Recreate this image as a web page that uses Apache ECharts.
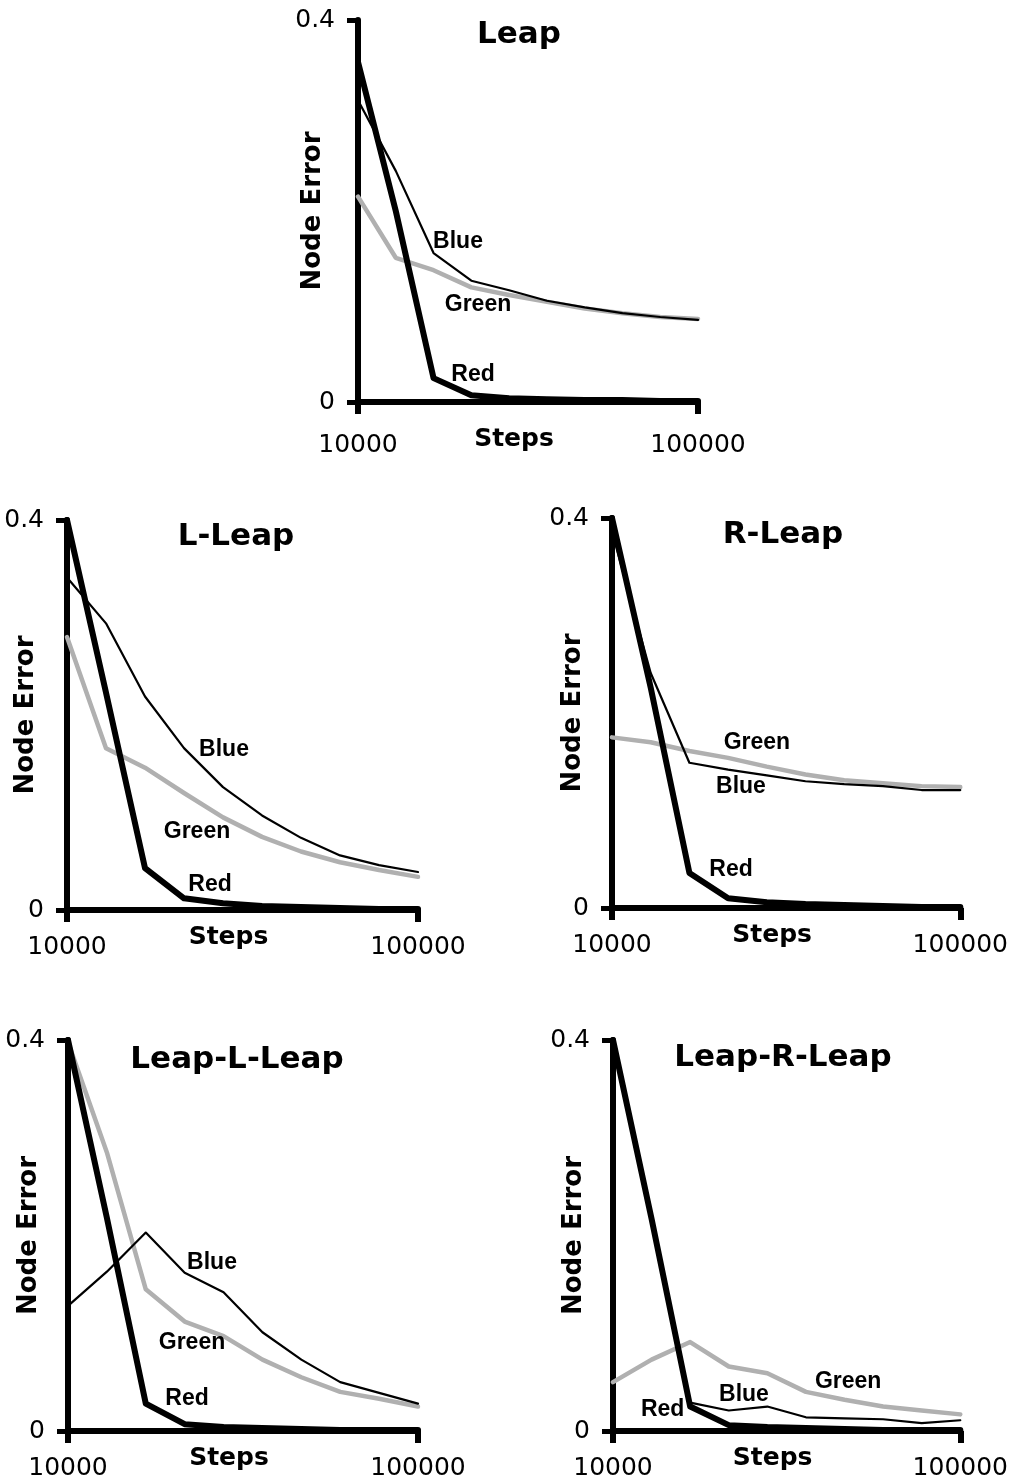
<!DOCTYPE html>
<html>
<head>
<meta charset="utf-8">
<script src="https://cdn.jsdelivr.net/npm/echarts@6/dist/echarts.min.js"></script>
<style>
html,body{margin:0;padding:0;background:#fff;}
#chart{width:1011px;height:1481px;}
</style>
</head>
<body>
<div id="chart"></div>
<script>
// ---- data ----
const steps = [10000, 20000, 30000, 40000, 50000, 60000, 70000, 80000, 90000, 100000];
const xTickValues = [10000, 100000];
const panelTitles = ['Leap', 'L-Leap', 'R-Leap', 'Leap-L-Leap', 'Leap-R-Leap'];
const seriesNames = ['Green', 'Blue', 'Red'];

const leapRed   = [0.356, 0.200, 0.025, 0.007, 0.004, 0.003, 0.002, 0.002, 0.001, 0.001];
const leapBlue  = [0.316, 0.242, 0.156, 0.127, 0.117, 0.106, 0.099, 0.093, 0.089, 0.086];
const leapGreen = [0.215, 0.151, 0.138, 0.120, 0.112, 0.105, 0.098, 0.093, 0.089, 0.087];

const lLeapRed   = [0.400, 0.223, 0.043, 0.012, 0.007, 0.004, 0.003, 0.002, 0.001, 0.001];
const lLeapBlue  = [0.341, 0.294, 0.219, 0.166, 0.126, 0.097, 0.074, 0.056, 0.046, 0.039];
const lLeapGreen = [0.280, 0.166, 0.146, 0.120, 0.095, 0.075, 0.060, 0.049, 0.041, 0.034];

const rLeapRed   = [0.400, 0.226, 0.036, 0.010, 0.006, 0.004, 0.003, 0.002, 0.001, 0.001];
const rLeapBlue  = [0.386, 0.241, 0.149, 0.142, 0.136, 0.130, 0.127, 0.125, 0.121, 0.121];
const rLeapGreen = [0.175, 0.170, 0.161, 0.154, 0.145, 0.137, 0.131, 0.128, 0.125, 0.124];

const leapLLeapRed   = [0.400, 0.218, 0.028, 0.007, 0.004, 0.003, 0.002, 0.001, 0.001, 0.001];
const leapLLeapBlue  = [0.128, 0.163, 0.203, 0.162, 0.142, 0.101, 0.073, 0.050, 0.039, 0.028];
const leapLLeapGreen = [0.398, 0.285, 0.145, 0.112, 0.097, 0.073, 0.055, 0.040, 0.033, 0.025];

const leapRLeapRed   = [0.400, 0.217, 0.025, 0.006, 0.004, 0.003, 0.002, 0.001, 0.001, 0.001];
const leapRLeapBlue  = [0.400, 0.217, 0.029, 0.021, 0.025, 0.014, 0.013, 0.012, 0.008, 0.011];
const leapRLeapGreen = [0.050, 0.073, 0.091, 0.066, 0.059, 0.040, 0.032, 0.025, 0.021, 0.017];

const panelData = [
  { green: leapGreen,      blue: leapBlue,      red: leapRed },
  { green: lLeapGreen,     blue: lLeapBlue,     red: lLeapRed },
  { green: rLeapGreen,     blue: rLeapBlue,     red: rLeapRed },
  { green: leapLLeapGreen, blue: leapLLeapBlue, red: leapLLeapRed },
  { green: leapRLeapGreen, blue: leapRLeapBlue, red: leapRLeapRed }
];

// ---- layout (positions / styles) ----
const layout = [
  { left: 358, top: 20,   width: 340, height: 382, titleX: 519, titleY: 35,   yNameGap: 32, xNameGap: 25, xLabelMargin: 31,
    labelAt: { Blue: [36470, 0.1675], Green: [41760, 0.1016], Red: [40440, 0.0283] } },
  { left: 67,  top: 520,  width: 351, height: 390, titleX: 236, titleY: 537,  yNameGap: 28, xNameGap: 15, xLabelMargin: 25,
    labelAt: { Blue: [50260, 0.1641], Green: [43333, 0.0800], Red: [46667, 0.0256] } },
  { left: 612, top: 518,  width: 351, height: 390, titleX: 783, titleY: 535,  yNameGap: 26, xNameGap: 15, xLabelMargin: 25,
    labelAt: { Blue: [43333, 0.1241], Green: [47436, 0.1692], Red: [40769, 0.0390] } },
  { left: 68,  top: 1040, width: 350, height: 392, titleX: 237, titleY: 1060, yNameGap: 26, xNameGap: 15, xLabelMargin: 25,
    labelAt: { Blue: [47029, 0.1724], Green: [41886, 0.0908], Red: [40600, 0.0327] } },
  { left: 613, top: 1040, width: 350, height: 391, titleX: 783, titleY: 1058, yNameGap: 26, xNameGap: 15, xLabelMargin: 25,
    labelAt: { Blue: [43943, 0.0368], Green: [70943, 0.0501], Red: [22857, 0.0215] } }
];

const lineStyles = {
  Green: { color: '#b0b0b0', width: 4.5 },
  Blue:  { color: '#000000', width: 2.2 },
  Red:   { color: '#000000', width: 6 }
};

const axisFont = 'DejaVu Sans';
const labelFont = 'Liberation Sans';

const grids = [], xAxes = [], yAxes = [], series = [], graphics = [];

layout.forEach((L, i) => {
  grids.push({ left: L.left, top: L.top, width: L.width, height: L.height, containLabel: false });
  xAxes.push({
    gridIndex: i, type: 'value', min: 10000, max: 100000,
    name: 'Steps', nameLocation: 'middle', nameGap: L.xNameGap, nameMoveOverlap: false,
    nameTextStyle: { fontFamily: axisFont, fontWeight: 'bold', fontSize: 25, color: '#000', padding: [0, 28, 0, 0] },
    axisLine: { show: true, onZero: false, lineStyle: { color: '#000', width: 6 } },
    axisTick: { show: true, length: 12, customValues: xTickValues, lineStyle: { color: '#000', width: 6 } },
    axisLabel: { show: true, customValues: xTickValues, margin: L.xLabelMargin, fontFamily: axisFont, fontSize: 25, color: '#000',
                 formatter: v => String(v) },
    splitLine: { show: false }
  });
  yAxes.push({
    gridIndex: i, type: 'value', min: 0, max: 0.4, interval: 0.4,
    name: 'Node Error', nameLocation: 'middle', nameGap: L.yNameGap, nameRotate: 90, nameMoveOverlap: false,
    nameTextStyle: { fontFamily: axisFont, fontWeight: 'bold', fontSize: 26, color: '#000' },
    axisLine: { show: true, onZero: false, lineStyle: { color: '#000', width: 6 } },
    axisTick: { show: true, length: 11, lineStyle: { color: '#000', width: 5 } },
    axisLabel: { show: true, margin: 23, fontFamily: axisFont, fontSize: 25, color: '#000',
                 formatter: v => (v === 0 ? '0' : String(v)) },
    splitLine: { show: false }
  });
  const d = panelData[i];
  const valuesByName = { Green: d.green, Blue: d.blue, Red: d.red };
  seriesNames.forEach((nm, k) => {
    const st = lineStyles[nm];
    series.push({
      type: 'line', name: nm, xAxisIndex: i, yAxisIndex: i,
      data: steps.map((s, j) => [s, valuesByName[nm][j]]),
      showSymbol: false, symbol: 'none', z: 3 + k,
      lineStyle: { color: st.color, width: st.width, join: 'round', cap: 'round' },
      emphasis: { disabled: true },
      markPoint: {
        symbol: 'circle', symbolSize: 1, silent: true,
        itemStyle: { color: 'rgba(0,0,0,0)' },
        label: { show: true, position: 'inside', formatter: '{b}', fontFamily: labelFont, fontWeight: 'bold', fontSize: 23, color: '#000' },
        data: [{ name: nm, coord: L.labelAt[nm] }]
      }
    });
  });
  graphics.push({
    type: 'text', x: L.titleX, y: L.titleY,
    style: { text: panelTitles[i], fontFamily: axisFont, fontWeight: 'bold', fontSize: 31, fill: '#000',
             textAlign: 'center', textVerticalAlign: 'middle' }
  });
});

const chart = echarts.init(document.getElementById('chart'), null, { renderer: 'canvas' });
chart.setOption({
  backgroundColor: '#fff',
  animation: false,
  grid: grids,
  xAxis: xAxes,
  yAxis: yAxes,
  series: series,
  graphic: graphics
});
</script>
</body>
</html>
